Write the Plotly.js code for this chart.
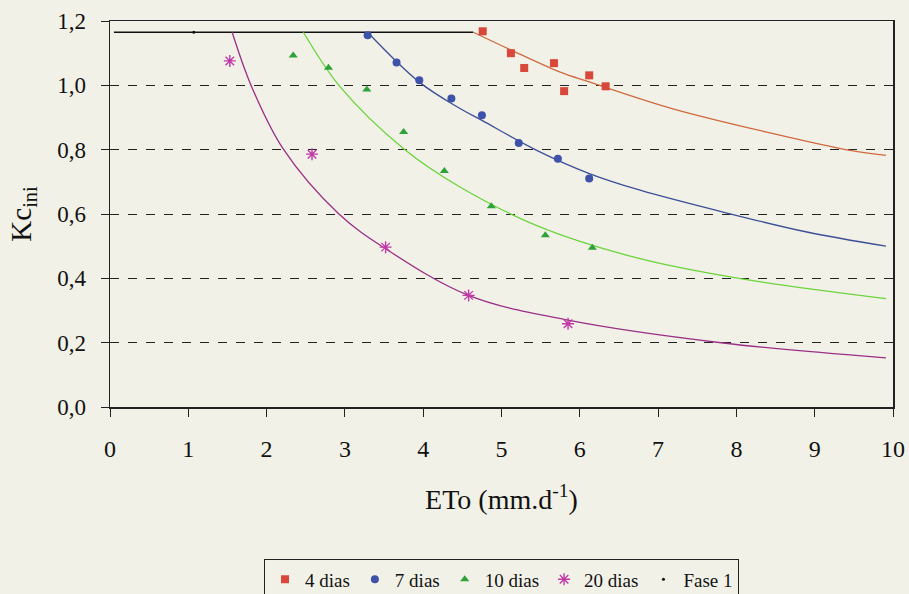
<!DOCTYPE html>
<html>
<head>
<meta charset="utf-8">
<script src="https://cdn.plot.ly/plotly-3.0.1.min.js"></script>
<style>html,body{margin:0;padding:0;background:#f2f1e8;}#chart{width:909px;height:594px;}</style>
</head>
<body>
<div id="chart"></div>
<script>
// Observed points
const d4x = [4.76, 5.12, 5.29, 5.67, 5.80, 6.12, 6.33];
const d4y = [1.168, 1.100, 1.054, 1.069, 0.982, 1.031, 0.997];
const d7x = [3.29, 3.66, 3.95, 4.36, 4.75, 5.22, 5.72, 6.12];
const d7y = [1.156, 1.071, 1.016, 0.959, 0.907, 0.821, 0.772, 0.710];
const d10x = [2.34, 2.79, 3.28, 3.75, 4.27, 4.87, 5.56, 6.16];
const d10y = [1.093, 1.055, 0.987, 0.855, 0.734, 0.624, 0.534, 0.495];
const d20x = [1.53, 2.58, 3.52, 4.58, 5.85];
const d20y = [1.076, 0.786, 0.497, 0.347, 0.259];
const faseX = [1.07];
const faseY = [1.165];

// Fitted curves
const flatX = [0.05, 4.64];
const flatY = [1.165, 1.165];
const c4x = [4.64, 5.11, 5.75, 6.13, 7.19, 8.47, 9.45, 9.91];
const c4y = [1.165, 1.111, 1.041, 1.010, 0.927, 0.850, 0.798, 0.782];
const c7x = [3.29, 3.95, 4.47, 4.75, 5.45, 6.13, 6.77, 7.83, 8.90, 9.91];
const c7y = [1.165, 1.010, 0.928, 0.891, 0.798, 0.725, 0.674, 0.606, 0.544, 0.500];
const c10x = [2.47, 2.94, 3.75, 4.47, 5.49, 6.77, 8.05, 9.91];
const c10y = [1.165, 0.995, 0.803, 0.684, 0.560, 0.461, 0.399, 0.337];
const c20x = [1.56, 1.81, 2.21, 2.92, 3.52, 4.58, 5.85, 7.83, 9.91];
const c20y = [1.165, 0.995, 0.803, 0.601, 0.492, 0.347, 0.270, 0.199, 0.153];

const xTicks = [0,1,2,3,4,5,6,7,8,9,10];
const yTicks = [0,0.2,0.4,0.6,0.8,1.0,1.2];

const serif = "Liberation Serif";

const traces = [
  {x: flatX, y: flatY, mode: 'lines', line: {color: '#111111', width: 1.4}, showlegend: false, hoverinfo: 'skip'},
  {x: c4x, y: c4y, mode: 'lines', line: {color: '#cf6a3e', width: 1.3, shape: 'spline'}, showlegend: false},
  {x: c7x, y: c7y, mode: 'lines', line: {color: '#3d4f96', width: 1.3, shape: 'spline'}, showlegend: false},
  {x: c10x, y: c10y, mode: 'lines', line: {color: '#6ad43a', width: 1.3, shape: 'spline'}, showlegend: false},
  {x: c20x, y: c20y, mode: 'lines', line: {color: '#9a2f85', width: 1.3, shape: 'spline'}, showlegend: false},
  {x: d4x, y: d4y, name: '4 dias', mode: 'markers', marker: {symbol: 'square', size: 8, color: '#d8483a'}},
  {x: d7x, y: d7y, name: '7 dias', mode: 'markers', marker: {symbol: 'circle', size: 8, color: '#3d52a8'}},
  {x: d10x, y: d10y, name: '10 dias', mode: 'markers', marker: {symbol: 'triangle-up', size: 8, color: '#2fa33a'}},
  {x: d20x, y: d20y, name: '20 dias', mode: 'markers', marker: {symbol: 'asterisk-open', size: 10, color: '#c23aa8', line: {color: '#c23aa8', width: 1.4}}},
  {x: faseX, y: faseY, name: 'Fase 1', mode: 'markers', marker: {symbol: 'circle', size: 3, color: '#111111'}}
];

const layout = {
  width: 909, height: 594,
  paper_bgcolor: '#f2f1e8', plot_bgcolor: '#f2f1e8',
  margin: {l: 110, r: 16, t: 21, b: 187, autoexpand: false},
  separators: ',.',
  font: {family: serif, color: '#111111', size: 22},
  xaxis: {
    range: [0, 10], tickvals: xTicks, ticktext: xTicks.map(String),
    showline: true, linecolor: '#222', linewidth: 1.5, mirror: true,
    ticks: 'outside', ticklen: 8, tickcolor: '#222', showgrid: false, zeroline: false,
    tickfont: {family: serif, size: 24}, ticklabelstandoff: 12,
    title: {text: 'ETo (mm.d<sup>-1</sup>)', font: {family: serif, size: 28}, standoff: 28}
  },
  yaxis: {
    range: [0, 1.2], tickvals: yTicks, tickformat: '.1f',
    showline: true, linecolor: '#222', linewidth: 1.5, mirror: true,
    ticks: 'outside', ticklen: 8, tickcolor: '#222',
    showgrid: true, gridcolor: '#222', griddash: 'dash', gridwidth: 1, zeroline: false,
    tickfont: {family: serif, size: 23}, ticklabelstandoff: 10,
    title: {text: 'Kc<sub>ini</sub>', font: {family: serif, size: 29}, standoff: 17}
  },
  legend: {
    orientation: 'h', x: 0.5, xanchor: 'center', y: -0.395, yanchor: 'top',
    bgcolor: 'rgba(0,0,0,0)', bordercolor: '#222', borderwidth: 1,
    font: {family: serif, size: 19}, itemwidth: 30, tracegroupgap: 0
  },
  showlegend: true
};

Plotly.newPlot('chart', traces, layout, {displayModeBar: false, staticPlot: true});
</script>
</body>
</html>
